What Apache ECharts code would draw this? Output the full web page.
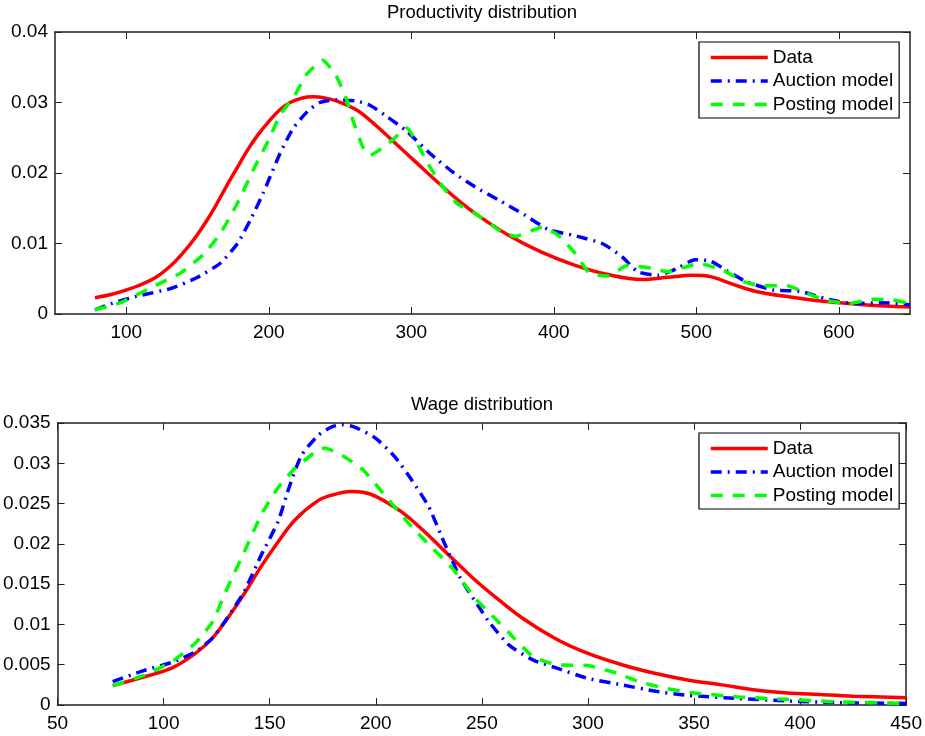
<!DOCTYPE html>
<html>
<head>
<meta charset="utf-8">
<script src="https://cdn.jsdelivr.net/npm/echarts@6/dist/echarts.min.js"></script>
<style>
html,body{margin:0;padding:0;background:#fff;}
#chart{width:925px;height:736px;}
</style>
</head>
<body>
<div id="chart"></div>
<script>
// ---------- Productivity distribution ----------
var prodDataX = [78, 90, 100, 107, 120, 131, 140, 149, 157, 164, 170, 178, 185, 192, 200, 208, 215, 223, 231, 240, 248, 262, 276, 290, 304, 318, 332, 346, 368, 391, 415, 438, 462, 480, 497, 510, 526, 542, 566, 589, 613, 636, 650];
var prodDataY = [0.0023, 0.0028, 0.0034, 0.0039, 0.0051, 0.0068, 0.0087, 0.0110, 0.0134, 0.0158, 0.0180, 0.0208, 0.0232, 0.0253, 0.0273, 0.0290, 0.0300, 0.0306, 0.0308, 0.0306, 0.0302, 0.0289, 0.0266, 0.0240, 0.0214, 0.0188, 0.0163, 0.0141, 0.0112, 0.0088, 0.0069, 0.0056, 0.0049, 0.0052, 0.0055, 0.0053, 0.0042, 0.0032, 0.0024, 0.0018, 0.0014, 0.0011, 0.0010];

var prodAuctionX = [78, 90, 107, 131, 149, 166, 178, 187, 196, 201, 208, 217, 227, 236, 248, 262, 271, 283, 297, 313, 330, 345, 361, 380, 396, 415, 434, 448, 459, 473, 487, 499, 510, 521, 535, 554, 573, 592, 610, 631, 650];
var prodAuctionY = [0.0006, 0.0015, 0.0025, 0.0036, 0.0051, 0.0072, 0.0100, 0.0133, 0.0171, 0.0195, 0.0228, 0.0263, 0.0287, 0.0300, 0.0304, 0.0302, 0.0296, 0.0280, 0.0259, 0.0228, 0.0200, 0.0180, 0.0162, 0.0140, 0.0120, 0.0111, 0.0100, 0.0081, 0.0060, 0.0055, 0.0065, 0.0077, 0.0075, 0.0062, 0.0046, 0.0034, 0.0032, 0.0021, 0.0015, 0.0016, 0.0013];

var prodPostingX = [78, 96, 119, 138, 154, 166, 178, 189, 201, 208, 217, 227, 238, 247, 254, 259, 266, 271, 283, 297, 304, 313, 323, 332, 346, 363, 373, 392, 403, 415, 425, 438, 452, 469, 480, 498, 503, 519, 533, 547, 564, 578, 592, 608, 624, 638, 650];
var prodPostingY = [0.0006, 0.0016, 0.0039, 0.0058, 0.0084, 0.0114, 0.0157, 0.0204, 0.0251, 0.0283, 0.0306, 0.0341, 0.0360, 0.0339, 0.0308, 0.0275, 0.0237, 0.0225, 0.0240, 0.0264, 0.0242, 0.0209, 0.0178, 0.0157, 0.0141, 0.0117, 0.0110, 0.0123, 0.0112, 0.0086, 0.0058, 0.0054, 0.0069, 0.0065, 0.0060, 0.0070, 0.0071, 0.0062, 0.0046, 0.0040, 0.0040, 0.0029, 0.0019, 0.0015, 0.0021, 0.0020, 0.0015];

// ---------- Wage distribution ----------
var wageDataX = [76, 91, 104, 115, 123, 130, 138, 146, 153, 162, 173, 180, 188, 194, 200, 212, 223, 236, 246, 254, 269, 285, 300, 316, 332, 347, 363, 378, 394, 409, 425, 450];
var wageDataY = [0.0024, 0.0035, 0.0046, 0.0064, 0.0083, 0.0107, 0.0138, 0.0172, 0.0199, 0.0230, 0.0254, 0.0261, 0.0265, 0.0264, 0.0259, 0.0240, 0.0215, 0.0182, 0.0157, 0.0139, 0.0108, 0.0082, 0.0064, 0.0050, 0.0039, 0.0031, 0.0025, 0.0019, 0.0015, 0.0013, 0.0011, 0.0009];

var wageAuctionX = [76, 91, 104, 115, 123, 130, 138, 146, 154, 159, 165, 173, 179, 184, 190, 200, 209, 217, 225, 232, 240, 248, 254, 263, 274, 285, 300, 316, 332, 347, 371, 394, 417, 450];
var wageAuctionY = [0.0029, 0.0043, 0.0053, 0.0066, 0.0083, 0.0108, 0.0141, 0.0186, 0.0228, 0.0269, 0.0310, 0.0335, 0.0345, 0.0348, 0.0345, 0.0331, 0.0308, 0.0279, 0.0246, 0.0203, 0.0157, 0.0124, 0.0101, 0.0074, 0.0056, 0.0046, 0.0033, 0.0025, 0.0017, 0.0012, 0.0008, 0.0005, 0.0003, 0.0002];

var wagePostingX = [76, 91, 104, 115, 123, 130, 138, 146, 154, 162, 172, 176, 184, 194, 204, 215, 225, 236, 247, 256, 263, 274, 285, 300, 313, 324, 336, 350, 371, 394, 417, 450];
var wagePostingY = [0.0024, 0.0037, 0.0054, 0.0077, 0.0103, 0.0145, 0.0190, 0.0236, 0.0270, 0.0294, 0.0315, 0.0319, 0.0310, 0.0292, 0.0261, 0.0227, 0.0199, 0.0170, 0.0132, 0.0108, 0.0089, 0.0060, 0.0050, 0.0049, 0.0040, 0.0029, 0.0021, 0.0015, 0.0010, 0.0007, 0.0004, 0.0002];

var seriesNames = ['Data', 'Auction model', 'Posting model'];
var titles = ['Productivity distribution', 'Wage distribution'];
var prodXTicks = [100, 200, 300, 400, 500, 600];

function pairs(xs, ys) { return xs.map(function (x, i) { return [x, ys[i]]; }); }

var FONT = 'Liberation Sans, Arial, Helvetica, sans-serif';
var AX = '#222';

var styles = [
  { color: '#ff0000', type: 'solid', smooth: 0.35 },
  { color: '#0000ff', type: [11, 6, 2, 6], smooth: 0.2 },
  { color: '#00ff00', type: [12, 10], smooth: 0.15 }
];

function mkSeries(name, data, xi, yi, st) {
  return {
    name: name, type: 'line', data: data, xAxisIndex: xi, yAxisIndex: yi,
    showSymbol: false, symbol: 'none', smooth: st.smooth, animation: false,
    lineStyle: { color: st.color, width: 3.5, type: st.type, cap: 'butt' },
    itemStyle: { color: st.color }
  };
}

function xAx(grid, min, max, interval, custom, pos, showLabel) {
  var o = {
    type: 'value', gridIndex: grid, min: min, max: max, position: pos,
    axisLine: { show: true, onZero: false, lineStyle: { color: AX, width: 1.5 } },
    axisTick: { show: true, inside: true, length: 7, lineStyle: { color: AX } },
    axisLabel: { show: showLabel, color: '#000', fontSize: 19, fontFamily: FONT, margin: 9 },
    splitLine: { show: false }
  };
  if (custom) { o.axisTick.customValues = custom; o.axisLabel.customValues = custom; }
  else { o.interval = interval; }
  return o;
}
function yAx(grid, max, interval, pos, showLabel) {
  return {
    type: 'value', gridIndex: grid, min: 0, max: max, interval: interval, position: pos,
    axisLine: { show: true, onZero: false, lineStyle: { color: AX, width: 1.5 } },
    axisTick: { show: true, inside: true, length: 7, lineStyle: { color: AX } },
    axisLabel: { show: showLabel, color: '#000', fontSize: 19, fontFamily: FONT, margin: 7 },
    splitLine: { show: false }
  };
}

function mkLegend(top) {
  return {
    data: seriesNames, orient: 'vertical', left: 699, top: top,
    itemWidth: 57, itemHeight: 14, itemGap: 4.5,
    padding: [6, 6, 4, 10], borderColor: '#000', borderWidth: 1.2,
    backgroundColor: '#fff', selectedMode: false,
    itemStyle: { opacity: 0, color: 'rgba(0,0,0,0)', borderWidth: 0 },
    lineStyle: { width: 3.5, cap: 'butt' },
    textStyle: { fontSize: 19, color: '#000', fontFamily: FONT, lineHeight: 19 }
  };
}

var option = {
  backgroundColor: '#fff',
  animation: false,
  title: [
    { text: titles[0], left: 482, top: 3, textAlign: 'center', padding: 0,
      textStyle: { fontSize: 18.5, fontWeight: 'normal', color: '#000', fontFamily: FONT } },
    { text: titles[1], left: 482, top: 395, textAlign: 'center', padding: 0,
      textStyle: { fontSize: 18.5, fontWeight: 'normal', color: '#000', fontFamily: FONT } }
  ],
  grid: [
    { left: 55, top: 32, width: 855, height: 282 },
    { left: 55, top: 423, width: 855, height: 282 }
  ],
  xAxis: [
    xAx(0, 50, 650, null, prodXTicks, 'bottom', true),
    xAx(0, 50, 650, null, prodXTicks, 'top', false),
    xAx(1, 50, 450, 50, null, 'bottom', true),
    xAx(1, 50, 450, 50, null, 'top', false)
  ],
  yAxis: [
    yAx(0, 0.04, 0.01, 'left', true),
    yAx(0, 0.04, 0.01, 'right', false),
    yAx(1, 0.035, 0.005, 'left', true),
    yAx(1, 0.035, 0.005, 'right', false)
  ],
  legend: [mkLegend(42), mkLegend(433)],
  series: [
    mkSeries(seriesNames[0], pairs(prodDataX, prodDataY), 0, 0, styles[0]),
    mkSeries(seriesNames[1], pairs(prodAuctionX, prodAuctionY), 0, 0, styles[1]),
    mkSeries(seriesNames[2], pairs(prodPostingX, prodPostingY), 0, 0, styles[2]),
    mkSeries(seriesNames[0], pairs(wageDataX, wageDataY), 2, 2, styles[0]),
    mkSeries(seriesNames[1], pairs(wageAuctionX, wageAuctionY), 2, 2, styles[1]),
    mkSeries(seriesNames[2], pairs(wagePostingX, wagePostingY), 2, 2, styles[2])
  ]
};

var chart = echarts.init(document.getElementById('chart'), null, { renderer: 'canvas' });
chart.setOption(option);
</script>
</body>
</html>
